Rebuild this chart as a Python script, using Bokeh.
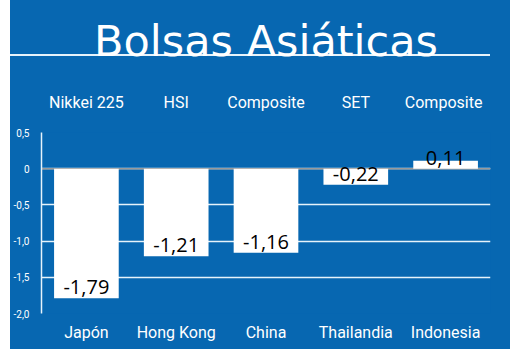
from bokeh.plotting import figure
from bokeh.models import (FactorRange, Range1d, CategoricalAxis, Title,
                          ColumnDataSource, FixedTicker, LabelSet, Span)
from bokeh.core.properties import value
from bokeh.embed import file_html
from bokeh.resources import INLINE

countries = ["Japón", "Hong Kong", "China", "Thailandia", "Indonesia"]
indices = ["Nikkei 225", "HSI", "Composite", "SET", "Composite "]
values = [-1.79, -1.21, -1.16, -0.22, 0.11]
value_labels = ["-1,79", "-1,21", "-1,16", "-0,22", "0,11"]
y_ticks = [0.5, 0, -0.5, -1.0, -1.5, -2.0]
y_tick_labels = ["0,5", "0", "-0,5", "-1,0", "-1,5", "-2,0"]
title_text = "Bolsas Asiáticas"

BLUE = "#0767b1"
GRID = "#e6f3fb"
COND = "Roboto"

src = ColumnDataSource(dict(
    x=countries, top=values, lab=value_labels,
    off=[4 if v < 0 else -4 for v in values],
))

p = figure(width=500, height=361, x_range=FactorRange(*countries),
           y_range=Range1d(-2.0, 0.5), output_backend="svg",
           toolbar_location=None, min_border_left=27, min_border_right=20,
           min_border_top=144, min_border_bottom=36)
p.margin = (-12, 10, 5, 10)
p.border_fill_color = None
p.background_fill_color = BLUE
p.outline_line_color = None
p.x_range.range_padding = 0
p.styles = {
    "background-color": BLUE,
    "background-image": f"linear-gradient({GRID}, {GRID})",
    "background-size": "480px 2px",
    "background-position": "0px 66px",
    "background-repeat": "no-repeat",
}

p.extra_x_ranges = {"idx": FactorRange(*indices, range_padding=0)}

p.vbar(x="x", top="top", bottom=0, width=0.72, source=src,
       fill_color="white", line_color=None)

p.add_layout(Span(location=0, dimension="width", line_color="#9a9a9a",
                  line_width=1.5, level="underlay"))

p.add_layout(LabelSet(x="x", y="top", text="lab", source=src, y_offset="off",
                      text_align="center", text_baseline="bottom",
                      text_font=value("Open Sans"), text_font_size="20px",
                      text_font_style="normal", text_color="black"))

# axes
p.xaxis.major_label_text_color = "white"
p.xaxis.major_label_text_font = COND
p.xaxis.major_label_text_font_size = "16px"
p.xaxis.axis_line_color = None
p.xaxis.major_tick_line_color = None
p.xaxis.major_label_standoff = 3

p.yaxis.ticker = FixedTicker(ticks=y_ticks)
p.yaxis.major_label_overrides = {t: l for t, l in zip(y_ticks, y_tick_labels)}
p.yaxis.major_label_text_color = "white"
p.yaxis.major_label_text_font = COND
p.yaxis.major_label_text_font_size = "10px"
p.yaxis.axis_line_color = GRID
p.yaxis.axis_line_width = 1.5
p.yaxis.major_tick_line_color = None
p.yaxis.minor_tick_line_color = None
p.yaxis.major_label_standoff = 6

p.xgrid.grid_line_color = None
p.ygrid.grid_line_color = GRID
p.ygrid.grid_line_width = 1.5

top_axis = CategoricalAxis(
    x_range_name="idx",
    major_label_text_color="white", major_label_text_font=COND,
    major_label_text_font_size="16px", axis_line_color=None,
    major_tick_line_color=None, major_label_standoff=15)
p.add_layout(top_axis, "above")

p.add_layout(Title(text=title_text, align="center", text_font="DejaVu Sans",
                   text_font_size="43px", text_font_style="normal",
                   text_line_height=1.0, vertical_align="bottom",
                   text_color="white", offset=6, standoff=47), "above")

open("out.html", "w").write(file_html(p, INLINE))
